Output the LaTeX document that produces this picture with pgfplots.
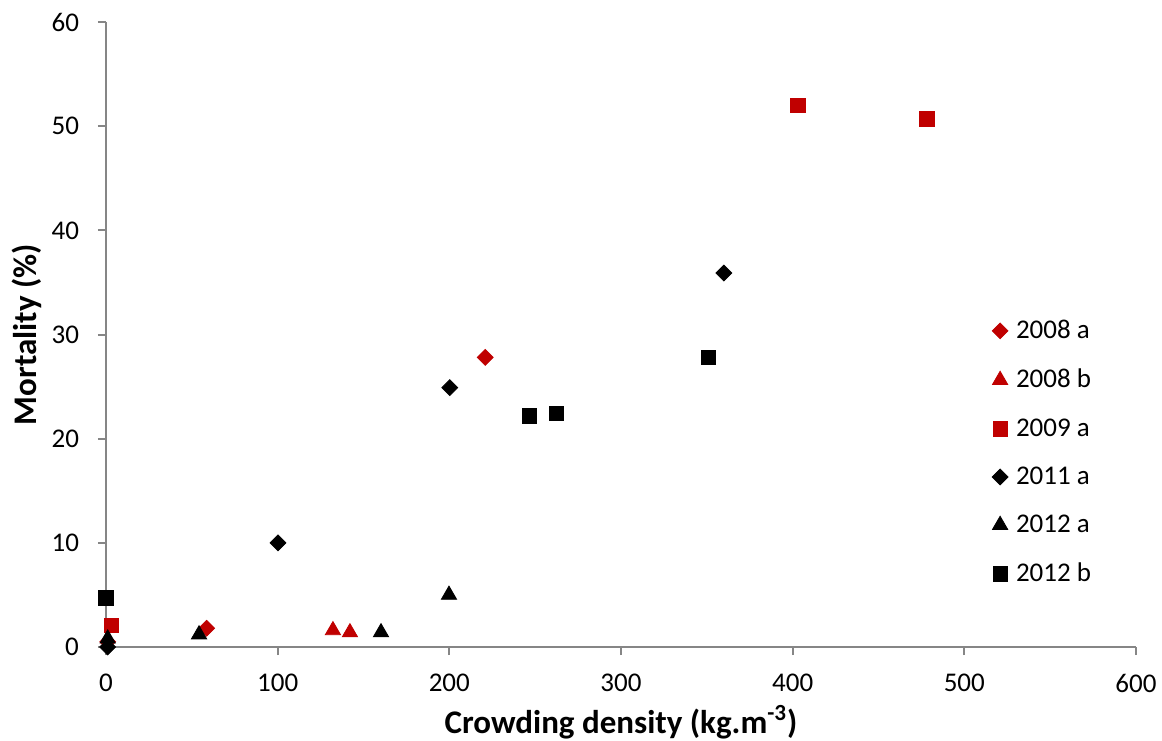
\documentclass[border=0pt]{standalone}
\usepackage{fontspec}
\setmainfont{Carlito}
\usepackage{pgfplots}
\pgfplotsset{compat=1.18}

\definecolor{exRed}{RGB}{192,0,0}
\definecolor{axGrey}{RGB}{134,134,134}

\begin{document}
\begin{tikzpicture}
\path[use as bounding box] (-53pt,-46.5pt) rectangle (528pt,323.5pt);
\begin{axis}[
    scale only axis,
    width=515pt, height=312.5pt,
    at={(0,0)}, anchor=south west,
    xmin=0, xmax=600, ymin=0, ymax=60,
    xtick={0,100,...,600}, ytick={0,10,...,60},
    axis x line=bottom, axis y line=left,
    axis line style={-, draw=axGrey, line width=1pt},
    tick style={draw=axGrey, line width=1pt},
    tick align=outside,
    major tick length=4pt,
    /pgf/number format/assume math mode=true,
    ticklabel style={font=\fontsize{13.5}{16}\selectfont},
    xticklabel style={yshift=-6pt},
    yticklabel style={xshift=-6pt},
    xlabel={\textbf{Crowding density (kg.m\textsuperscript{-3})}},
    ylabel={\textbf{Mortality (\%)}},
    label style={font=\fontsize{16.5}{20}\selectfont},
    xlabel style={anchor=base, at={(axis description cs:0.5,-0.1376)}},
    ylabel style={anchor=base, at={(axis description cs:-0.067,0.5)}},
    clip=false,
    legend style={draw=none, fill=none, at={(0.86,0.530)}, anchor=north west,
        font=\fontsize{13.5}{16}\selectfont, row sep=9.8pt, inner sep=0pt,
        nodes={inner xsep=4pt}},
    legend cell align=left,
    only marks,
]
\addplot[mark=square*, mark options={rotate=45, fill=exRed, draw=exRed}, mark size=2.8pt]
  coordinates {(1,0.5) (58.6,1.8) (220.9,27.8)};
\addlegendentry{2008 a}
\addplot[mark=triangle*, mark options={fill=exRed, draw=exRed}, mark size=4.4pt]
  coordinates {(132.2,1.6) (142.1,1.4)};
\addlegendentry{2008 b}
\addplot[mark=square*, mark options={fill=exRed, draw=exRed}, mark size=3.6pt]
  coordinates {(3,2.1) (403,52.0) (478.2,50.7)};
\addlegendentry{2009 a}
\addplot[mark=square*, mark options={rotate=45, fill=black, draw=black}, mark size=2.8pt]
  coordinates {(1,0) (100.2,10.0) (200.3,24.9) (359.9,35.9)};
\addlegendentry{2011 a}
\addplot[mark=triangle*, mark options={fill=black, draw=black}, mark size=4.4pt]
  coordinates {(1,0.8) (54.2,1.2) (160.2,1.4) (199.8,5.0)};
\addlegendentry{2012 a}
\addplot[mark=square*, mark options={fill=black, draw=black}, mark size=3.6pt]
  coordinates {(0,4.7) (246.5,22.2) (262.3,22.4) (350.8,27.8)};
\addlegendentry{2012 b}
\end{axis}
\end{tikzpicture}
\end{document}
